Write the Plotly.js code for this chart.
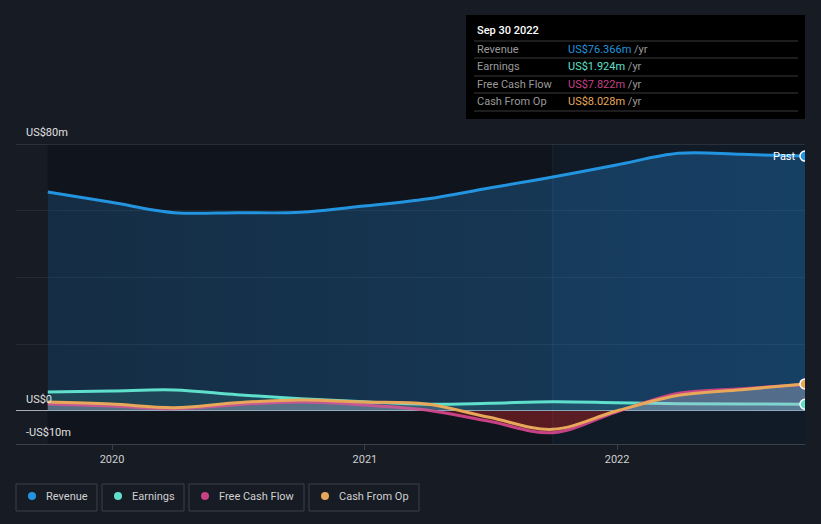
<!DOCTYPE html>
<html>
<head>
<meta charset="utf-8">
<script src="https://cdn.plot.ly/plotly-3.0.1.min.js"></script>
<style>html,body{margin:0;padding:0;background:#161b24;}#chart{width:821px;height:524px;}</style>
</head>
<body>
<div id="chart"></div>
<script>
// ---- data (US$ millions, trailing twelve months) ----
const dates = ['2019-09-30','2019-12-31','2020-03-31','2020-06-30','2020-09-30','2020-12-31','2021-03-31','2021-06-30','2021-09-30','2021-12-31','2022-03-31','2022-06-30','2022-09-30'];
const revenue = [65.6, 62.5, 59.4, 59.4, 59.5, 61.4, 63.5, 66.8, 70.1, 73.7, 77.2, 76.9, 76.366];
const earnings = [5.6, 5.9, 6.2, 4.8, 3.6, 2.7, 1.9, 2.2, 2.7, 2.4, 2.1, 2.0, 1.924];
const freeCashFlow = [2.0, 1.4, 0.6, 1.8, 2.6, 1.7, 0.2, -3.2, -6.6, -0.4, 5.2, 6.6, 7.822];
const cashFromOp = [2.6, 2.0, 0.9, 2.4, 3.2, 2.6, 2.0, -2.0, -5.6, -0.1, 4.6, 6.3, 8.028];
const seriesNames = ['Revenue','Earnings','Free Cash Flow','Cash From Op'];
const seriesColors = ['#2394df','#5fe0cc','#c64285','#e8a85a'];
const latestLabel = 'Sep 30 2022';
const latestValues = ['US$76.366m','US$1.924m','US$7.822m','US$8.028m'];
const yTickVals = [-10, 0, 20, 40, 60, 80];
const yLabels = {'80':'US$80m','0':'US$0','-10':'-US$10m'};
const xTickVals = ['2020-01-01','2021-01-01','2022-01-01'];
const xTickText = ['2020','2021','2022'];
const pastBoundary = '2021-09-30';

// ---- layout helpers (pixel -> paper) ----
const W = 821, H = 524, L = 16, R = 16, T = 144, B = 80;
const pw = W - L - R, ph = H - T - B;
const px = x => (x - L) / pw;
const py = y => (H - B - y) / ph;
const font = 'Roboto, "Open Sans", sans-serif';

const lineBase = {type:'scatter', mode:'lines', x: dates, hoverinfo:'skip', showlegend:false};
const traces = [
  Object.assign({}, lineBase, {y: revenue, name: seriesNames[0], fill:'tozeroy',
    fillgradient:{type:'horizontal', colorscale:[[0,'rgba(33,110,170,0.28)'],[1,'rgba(30,115,185,0.42)']]},
    line:{color:seriesColors[0], width:3, shape:'spline', smoothing:1}}),
  Object.assign({}, lineBase, {y: earnings, name: seriesNames[1], fill:'tozeroy', fillcolor:'rgba(90,220,200,0.13)',
    line:{color:seriesColors[1], width:3, shape:'spline', smoothing:1}}),
  Object.assign({}, lineBase, {y: freeCashFlow, name: seriesNames[2], fill:'tozeroy',
    fillgradient:{type:'vertical', start:-1, stop:1, colorscale:[[0,'rgba(120,30,35,0.55)'],[0.499,'rgba(120,30,35,0.55)'],[0.501,'rgba(190,190,210,0.22)'],[1,'rgba(190,190,210,0.22)']]},
    line:{color:seriesColors[2], width:3, shape:'spline', smoothing:1}}),
  Object.assign({}, lineBase, {y: cashFromOp, name: seriesNames[3], fill:'tozeroy',
    fillgradient:{type:'vertical', start:-1, stop:1, colorscale:[[0,'rgba(120,30,35,0.35)'],[0.499,'rgba(120,30,35,0.35)'],[0.501,'rgba(190,190,210,0.18)'],[1,'rgba(190,190,210,0.18)']]},
    line:{color:seriesColors[3], width:3, shape:'spline', smoothing:1}}),
];
// end markers
[revenue, earnings, freeCashFlow, cashFromOp].forEach((s, i) => {
  if (i === 2) return;
  traces.push({type:'scatter', mode:'markers', x:[dates[dates.length-1]], y:[s[s.length-1]], hoverinfo:'skip', showlegend:false,
    marker:{color:seriesColors[i], size:10, line:{color:'#ffffff', width:1.5}}});
});

const shapes = [
  {type:'rect', layer:'below', xref:'x', yref:'paper', x0:dates[0], x1:pastBoundary, y0:0, y1:1, fillcolor:'#10141c', line:{width:0}},
  {type:'rect', layer:'below', xref:'x', yref:'paper', x0:pastBoundary, x1:dates[dates.length-1], y0:0, y1:1, fillcolor:'#111a27', line:{width:0}},
  {type:'line', layer:'above', xref:'x', yref:'paper', x0:pastBoundary, x1:pastBoundary, y0:0, y1:1, line:{color:'rgba(255,255,255,0.06)', width:1}},
  {type:'line', layer:'below', xref:'paper', yref:'y', x0:0, x1:1, y0:80, y1:80, line:{color:'#43464e', width:1}},
  // tooltip box
  {type:'rect', xref:'paper', yref:'paper', x0:px(466), x1:px(805), y0:py(119), y1:py(15), fillcolor:'#000000', line:{width:0}},
];
[41, 58, 76, 93, 111].forEach(y => shapes.push({type:'line', xref:'paper', yref:'paper', x0:px(474), x1:px(798), y0:py(y), y1:py(y), line:{color:'#3a3a3a', width:1}}));

const annotations = [];
Object.keys(yLabels).forEach(v => annotations.push({xref:'paper', yref:'y', x:0, y:Number(v), xanchor:'left', yanchor:'bottom', xshift:8, yshift:3, showarrow:false, text:yLabels[v], font:{family:font, size:11, color:'#e0e0e0'}}));
annotations.push({xref:'x', yref:'y', x:dates[dates.length-1], y:revenue[revenue.length-1], xanchor:'right', yanchor:'middle', xshift:-7, showarrow:false, text:'Past', font:{family:font, size:11, color:'#ffffff'}});
// tooltip texts
annotations.push({xref:'paper', yref:'paper', x:px(475), y:py(31), xanchor:'left', yanchor:'middle', showarrow:false, text:latestLabel, font:{family:font, size:11, color:'#ffffff', weight:500}});
const rowY = [49, 66, 84, 101];
seriesNames.forEach((n, i) => {
  annotations.push({xref:'paper', yref:'paper', x:px(475), y:py(rowY[i]), xanchor:'left', yanchor:'middle', showarrow:false, text:n, font:{family:font, size:11, color:'#9a9a9a'}});
  annotations.push({xref:'paper', yref:'paper', x:px(566), y:py(rowY[i]), xanchor:'left', yanchor:'middle', showarrow:false,
    text:'<span style="color:'+seriesColors[i]+'">'+latestValues[i]+'</span> /yr', font:{family:font, size:11, color:'#9a9a9a'}});
});
// legend boxes
const boxes = [[16,97],[102,184],[189,304],[309,419]];
seriesNames.forEach((n, i) => {
  const [a, b] = boxes[i];
  shapes.push({type:'rect', xref:'paper', yref:'paper', x0:px(a), x1:px(b), y0:py(511), y1:py(484), fillcolor:'rgba(0,0,0,0)', line:{color:'#3b404a', width:1}});
  shapes.push({type:'circle', xref:'paper', yref:'paper', x0:px(a+12), x1:px(a+20), y0:py(500), y1:py(492), fillcolor:seriesColors[i], line:{width:0}});
  annotations.push({xref:'paper', yref:'paper', x:px(a+28), y:py(496), xanchor:'left', yanchor:'middle', showarrow:false, text:n, font:{family:font, size:11, color:'#d0d0d0'}});
});

const layout = {
  width: W, height: H,
  margin:{l:L, r:R, t:T, b:B, pad:0},
  paper_bgcolor:'#161b24', plot_bgcolor:'#161b24',
  font:{family:font, color:'#d0d0d0', size:11},
  showlegend:false,
  xaxis:{type:'date', range:['2019-08-15', dates[dates.length-1]], tickvals:xTickVals, ticktext:xTickText,
    showgrid:false, zeroline:false, showline:true, linecolor:'#3a3f48', linewidth:1,
    ticks:'outside', ticklen:5, tickcolor:'#3a3f48', tickfont:{family:font, size:11, color:'#d0d0d0'}, fixedrange:true},
  yaxis:{range:[-10, 80], tickvals:yTickVals, showticklabels:false, showgrid:true, gridcolor:'rgba(255,255,255,0.07)',
    zeroline:true, zerolinecolor:'#a8aeb6', zerolinewidth:1.5, showline:false, fixedrange:true},
  shapes: shapes,
  annotations: annotations,
};
Plotly.newPlot('chart', traces, layout, {staticPlot:true, displayModeBar:false});
</script>
</body>
</html>
